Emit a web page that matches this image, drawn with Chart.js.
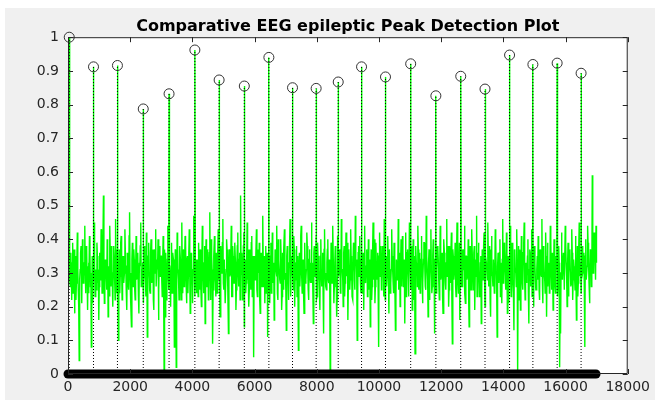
<!DOCTYPE html>
<html>
<head>
<meta charset="utf-8">
<script src="https://cdn.jsdelivr.net/npm/chart.js@4/dist/chart.umd.min.js"></script>
<style>
  html, body { margin: 0; padding: 0; background: #ffffff; }
  #wrap { width: 655px; height: 400px; }
</style>
</head>
<body>
<div id="wrap"><canvas id="eeg"></canvas></div>
<script>
// sample spacing of the noise trace
const sampleStep = 30;

// EEG amplitude (normalised), samples 0, 30, 60, ...
const eegNoise = [
  0.32,0.60,0.28,0.36,0.22,0.39,0.30,0.18,0.35,0.27,0.42,0.25,0.04,0.31,0.38,0.21,0.34,0.29,0.44,0.24,
  0.37,0.19,0.33,0.41,0.26,0.08,0.35,0.28,0.45,0.23,0.31,0.39,0.27,0.16,0.36,0.30,0.42,0.25,0.53,0.21,
  0.34,0.29,0.40,0.17,0.32,0.44,0.26,0.35,0.20,0.38,0.28,0.46,0.24,0.33,0.10,0.37,0.29,0.41,0.22,0.35,
  0.27,0.43,0.31,0.19,0.36,0.25,0.48,0.30,0.14,0.39,0.26,0.34,0.22,0.41,0.29,0.36,0.18,0.32,0.45,0.27,
  0.33,0.21,0.38,0.28,0.42,0.11,0.35,0.30,0.24,0.40,0.27,0.37,0.19,0.33,0.43,0.26,0.31,0.16,0.38,0.29,
  0.35,0.23,0.41,0.01,0.17,0.36,0.27,0.44,0.25,0.32,0.20,0.39,0.29,0.34,0.08,0.37,0.02,0.42,0.31,0.22,
  0.38,0.28,0.45,0.24,0.28,0.33,0.40,0.21,0.35,0.29,0.43,0.18,0.36,0.27,0.31,0.47,0.23,0.34,0.24,0.30,
  0.39,0.25,0.36,0.20,0.44,0.28,0.33,0.15,0.40,0.26,0.37,0.30,0.48,0.22,0.35,0.09,0.32,0.41,0.27,0.36,
  0.24,0.43,0.29,0.17,0.38,0.31,0.46,0.25,0.34,0.21,0.40,0.28,0.12,0.37,0.30,0.44,0.23,0.35,0.27,0.39,
  0.19,0.33,0.42,0.26,0.36,0.53,0.30,0.22,0.38,0.14,0.34,0.27,0.45,0.31,0.20,0.37,0.25,0.41,0.29,0.05,
  0.35,0.28,0.43,0.23,0.32,0.39,0.18,0.36,0.26,0.47,0.30,0.21,0.38,0.33,0.11,0.40,0.27,0.35,0.24,0.42,
  0.29,0.16,0.37,0.31,0.44,0.22,0.34,0.28,0.40,0.19,0.36,0.25,0.43,0.30,0.13,0.38,0.27,0.33,0.46,0.23,
  0.35,0.29,0.41,0.20,0.32,0.38,0.26,0.07,0.36,0.30,0.44,0.24,0.34,0.18,0.39,0.28,0.42,0.31,0.22,0.37,
  0.27,0.45,0.33,0.15,0.38,0.29,0.41,0.23,0.35,0.31,0.19,0.40,0.26,0.36,0.12,0.43,0.30,0.25,0.37,0.28,
  0.34,0.00,0.39,0.27,0.44,0.21,0.33,0.36,0.17,0.41,0.29,0.35,0.24,0.46,0.31,0.20,0.38,0.27,0.42,0.30,
  0.16,0.37,0.25,0.43,0.32,0.22,0.39,0.28,0.47,0.34,0.10,0.36,0.29,0.41,0.24,0.38,0.31,0.19,0.44,0.27,
  0.35,0.23,0.40,0.30,0.14,0.37,0.26,0.45,0.33,0.21,0.39,0.28,0.36,0.08,0.42,0.30,0.25,0.38,0.32,0.46,
  0.22,0.35,0.29,0.41,0.18,0.37,0.27,0.43,0.31,0.24,0.39,0.13,0.34,0.28,0.46,0.30,0.20,0.40,0.26,0.36,
  0.32,0.15,0.42,0.28,0.37,0.23,0.45,0.30,0.35,0.19,0.40,0.27,0.06,0.38,0.33,0.44,0.25,0.36,0.29,0.41,
  0.21,0.34,0.39,0.26,0.47,0.31,0.17,0.37,0.28,0.43,0.24,0.35,0.30,0.12,0.41,0.27,0.38,0.33,0.22,0.44,
  0.29,0.36,0.18,0.40,0.31,0.25,0.46,0.34,0.20,0.38,0.27,0.42,0.09,0.35,0.30,0.39,0.23,0.45,0.28,0.33,
  0.16,0.41,0.26,0.37,0.32,0.44,0.21,0.35,0.29,0.40,0.14,0.38,0.25,0.43,0.30,0.36,0.19,0.34,0.47,0.27,
  0.39,0.23,0.33,0.15,0.37,0.28,0.42,0.20,0.35,0.31,0.45,0.26,0.38,0.17,0.41,0.29,0.34,0.24,0.43,0.30,
  0.11,0.36,0.27,0.40,0.33,0.21,0.46,0.29,0.37,0.25,0.42,0.18,0.35,0.31,0.44,0.23,0.39,0.28,0.13,0.36,
  0.30,0.43,0.00,0.38,0.34,0.19,0.41,0.27,0.36,0.45,0.22,0.33,0.29,0.40,0.15,0.37,0.26,0.43,0.31,0.20,
  0.38,0.28,0.25,0.35,0.41,0.25,0.37,0.30,0.46,0.21,0.34,0.28,0.42,0.17,0.39,0.32,0.24,0.44,0.29,0.36,
  0.19,0.40,0.27,0.35,0.47,0.23,0.38,0.02,0.12,0.42,0.28,0.36,0.25,0.44,0.33,0.20,0.39,0.30,0.37,0.26,
  0.43,0.22,0.34,0.29,0.41,0.16,0.38,0.27,0.45,0.32,0.24,0.38,0.30,0.36,0.08,0.40,0.28,0.44,0.33,0.21,
  0.37,0.26,0.59,0.30,0.42,0.35,0.44
];

// in-between samples 15, 45, 75, ...
const eegNoiseMid = [
  0.35,0.41,0.26,0.30,0.33,0.24,0.37,0.29,0.22,0.34,0.31,0.20,0.28,0.36,0.25,0.40,0.27,0.33,0.30,0.38,
  0.28,0.32,0.24,0.36,0.30,0.27,0.21,0.39,0.33,0.29,0.25,0.35,0.31,0.26,0.28,0.43,0.24,0.34,0.30,0.27,
  0.31,0.25,0.36,0.29,0.23,0.33,0.38,0.27,0.30,0.35,0.22,0.32,0.37,0.26,0.29,0.24,0.39,0.31,0.28,0.34,
  0.30,0.36,0.24,0.32,0.27,0.41,0.29,0.21,0.34,0.31,0.37,0.25,0.30,0.28,0.35,0.23,0.33,0.38,0.26,0.31,
  0.27,0.35,0.30,0.23,0.33,0.28,0.39,0.25,0.36,0.29,0.32,0.22,0.37,0.30,0.26,0.34,0.40,0.24,0.31,0.35,
  0.28,0.33,0.25,0.37,0.30,0.22,0.34,0.29,0.39,0.27,0.32,0.24,0.36,0.30,0.27,0.33,0.25,0.38,0.28,0.31,
  0.34,0.22,0.30,0.37,0.26,0.41,0.28,0.33,0.24,0.36,0.30,0.27,0.35,0.21,0.38,0.29,0.32,0.26,0.34,0.23,
  0.31,0.37,0.27,0.34,0.29,0.24,0.38,0.30,0.26,0.33,0.22,0.36,0.28,0.40,0.31,0.25,0.35,0.29,0.23,0.32,
  0.36,0.28,0.33,0.25,0.30,0.39,0.27,0.34,0.21,0.31,0.37,0.26,0.32,0.29,0.35,0.23,0.38,0.30,0.27,0.33,
  0.25,0.38,0.29,0.34,0.22,0.31,0.36,0.27,0.42,0.30,0.24,0.33,0.28,0.37,0.26,0.32,0.39,0.23,0.35,0.30,
  0.28,0.34,0.25,0.37,0.30,0.22,0.33,0.29,0.38,0.26,0.35,0.31,0.24,0.36,0.28,0.32,0.21,0.39,0.30,0.27,
  0.33,0.26,0.36,0.29,0.24,0.40,0.31,0.27,0.34,0.23,0.30,0.37,0.28,0.25,0.35,0.32,0.22,0.38,0.29,0.34,
  0.30,0.25,0.37,0.28,0.33,0.23,0.35,0.30,0.26,0.41,0.29,0.32,0.24,0.36,0.27,0.31,0.38,0.25,0.34,0.29,
  0.33,0.27,0.24,0.36,0.30,0.34,0.22,0.39,0.28,0.25,0.35,0.31,0.29,0.23,0.37,0.30,0.26,0.33,0.40,0.27,
  0.31,0.24,0.35,0.29,0.32,0.26,0.38,0.28,0.22,0.34,0.30,0.37,0.25,0.31,0.28,0.36,0.23,0.33,0.29,0.39,
  0.26,0.32,0.28,0.35,0.23,0.30,0.37,0.25,0.33,0.29,0.21,0.38,0.31,0.27,0.34,0.24,0.36,0.30,0.28,0.32,
  0.37,0.29,0.25,0.34,0.31,0.22,0.36,0.28,0.40,0.26,0.33,0.30,0.24,0.35,0.29,0.38,0.27,0.32,0.23,0.36,
  0.30,0.26,0.33,0.28,0.37,0.24,0.31,0.35,0.27,0.39,0.29,0.22,0.34,0.30,0.25,0.36,0.32,0.28,0.41,0.26,
  0.34,0.29,0.23,0.36,0.31,0.27,0.33,0.25,0.38,0.30,0.22,0.35,0.28,0.32,0.26,0.37,0.30,0.24,0.34,0.29,
  0.27,0.39,0.31,0.25,0.35,0.28,0.33,0.22,0.36,0.30,0.26,0.40,0.29,0.34,0.24,0.31,0.37,0.27,0.32,0.28,
  0.35,0.23,0.30,0.36,0.27,0.33,0.29,0.38,0.25,0.31,0.34,0.22,0.37,0.28,0.32,0.26,0.35,0.30,0.24,0.39,
  0.29,0.33,0.26,0.31,0.37,0.24,0.35,0.28,0.30,0.22,0.36,0.32,0.27,0.34,0.25,0.38,0.29,0.31,0.23,0.36,
  0.30,0.27,0.35,0.25,0.32,0.38,0.29,0.24,0.33,0.28,0.36,0.31,0.22,0.37,0.30,0.26,0.34,0.29,0.40,0.25,
  0.32,0.28,0.36,0.23,0.30,0.34,0.27,0.39,0.31,0.25,0.33,0.29,0.21,0.36,0.28,0.35,0.30,0.24,0.37,0.31,
  0.26,0.34,0.29,0.22,0.37,0.30,0.33,0.25,0.39,0.28,0.32,0.27,0.35,0.24,0.31,0.36,0.29,0.23,0.38,0.30,
  0.33,0.25,0.31,0.28,0.36,0.22,0.34,0.29,0.27,0.38,0.30,0.24,0.35,0.31,0.26,0.33,0.28,0.40,0.25,0.32,
  0.29,0.35,0.24,0.31,0.37,0.27,0.33,0.22,0.30,0.36,0.28,0.34,0.25,0.39,0.29,0.32,0.23,0.35,0.30,0.27,
  0.36,0.28,0.32,0.25,0.34,0.30,0.23,0.38,0.29,0.33,0.26,0.37,0.31,0.24,0.35,0.28,0.32,0.39,0.27,0.30,
  0.33,0.29,0.38,0.31,0.36,0.28,0.33
];

// detected peaks (sample index, amplitude)
const peakX = [40, 820, 1590, 2420, 3250, 4080, 4860, 5670, 6460, 7220, 7980,
               8690, 9440, 10210, 11020, 11830, 12630, 13410, 14200, 14950, 15730, 16500];
const peakY = [1.0, 0.912, 0.916, 0.787, 0.832, 0.962, 0.873, 0.855, 0.94, 0.85, 0.848,
               0.867, 0.912, 0.882, 0.921, 0.826, 0.884, 0.846, 0.947, 0.919, 0.923, 0.893];

// the zero-marker run along the bottom
const baseStart = 0;
const baseEnd = 16980;

const xTicks = [0, 2000, 4000, 6000, 8000, 10000, 12000, 14000, 16000, 18000];
const yTicks = [0, 0.1, 0.2, 0.3, 0.4, 0.5, 0.6, 0.7, 0.8, 0.9, 1];

// build the datasets
const signal = [];
eegNoise.forEach((v, i) => signal.push({ x: i * sampleStep, y: v }));
eegNoiseMid.forEach((v, i) => signal.push({ x: i * sampleStep + sampleStep / 2, y: v }));
peakX.forEach((x, i) => signal.push({ x: x, y: peakY[i] }));
signal.sort((a, b) => a.x - b.x);

const stems = [];
peakX.forEach((x, i) => {
  stems.push({ x: x, y: 0 });
  stems.push({ x: x, y: peakY[i] });
  stems.push({ x: x, y: null });
});

const peaks = peakX.map((x, i) => ({ x: x, y: peakY[i] }));
const baseline = [{ x: baseStart, y: 0 }, { x: baseEnd, y: 0 }];

const axisColor = '#262626';

// figure background, white axes box, inward ticks on all four sides
const matlabFrame = {
  id: 'matlabFrame',
  beforeDraw(chart) {
    const { ctx, chartArea: a } = chart;
    ctx.save();
    ctx.fillStyle = '#ffffff';
    ctx.fillRect(0, 0, chart.width, chart.height);
    ctx.fillStyle = '#f0f0f0';
    ctx.fillRect(5, 8, chart.width - 5, chart.height - 8);
    ctx.fillStyle = '#ffffff';
    ctx.fillRect(a.left, a.top, a.right - a.left, a.bottom - a.top);
    ctx.restore();
  },
  afterDatasetsDraw(chart) {
    const { ctx, chartArea: a, scales } = chart;
    const len = 5;
    ctx.save();
    ctx.strokeStyle = axisColor;
    ctx.lineWidth = 1;
    ctx.beginPath();
    ctx.rect(a.left + 0.5, a.top + 0.5, a.right - a.left - 1, a.bottom - a.top - 1);
    xTicks.forEach(v => {
      const px = Math.round(scales.x.getPixelForValue(v)) + 0.5;
      ctx.moveTo(px, a.bottom); ctx.lineTo(px, a.bottom - len);
      ctx.moveTo(px, a.top); ctx.lineTo(px, a.top + len);
    });
    yTicks.forEach(v => {
      const py = Math.round(scales.y.getPixelForValue(v)) + 0.5;
      ctx.moveTo(a.left, py); ctx.lineTo(a.left + len, py);
      ctx.moveTo(a.right, py); ctx.lineTo(a.right - len, py);
    });
    ctx.stroke();
    ctx.restore();
  }
};

new Chart(document.getElementById('eeg'), {
  type: 'line',
  data: {
    datasets: [
      {
        label: 'baseline',
        data: baseline,
        borderColor: '#000000',
        borderWidth: 9,
        borderCapStyle: 'round',
        pointRadius: 0,
        clip: false,
        order: 0,
      },
      {
        label: 'peaks',
        data: peaks,
        showLine: false,
        pointRadius: 5,
        pointBorderWidth: 1,
        pointBorderColor: '#333333',
        pointBackgroundColor: 'rgba(0,0,0,0)',
        clip: false,
        order: 1,
      },
      {
        label: 'stems',
        data: stems,
        borderColor: '#000000',
        borderWidth: 1,
        borderDash: [1, 2],
        pointRadius: 0,
        spanGaps: false,
        order: 2,
      },
      {
        label: 'EEG',
        data: signal,
        borderColor: '#00ff00',
        borderWidth: 1.4,
        pointRadius: 0,
        tension: 0,
        clip: false,
        order: 3,
      },
    ],
  },
  options: {
    responsive: true,
    maintainAspectRatio: false,
    animation: false,
    events: [],
    layout: { padding: { left: 0, top: 0, right: 27, bottom: 0 } },
    plugins: {
      legend: { display: false },
      tooltip: { enabled: false },
      title: {
        display: true,
        text: 'Comparative EEG epileptic Peak Detection Plot',
        fullSize: false,
        color: '#000000',
        font: { family: 'DejaVu Sans', size: 16, weight: 'bold' },
        padding: { top: 17, bottom: 1 },
      },
    },
    scales: {
      x: {
        type: 'linear',
        min: 0,
        max: 18000,
        afterBuildTicks: s => { s.ticks = xTicks.map(v => ({ value: v })); },
        afterFit: s => { s.height = 26; },
        grid: { drawOnChartArea: false, drawTicks: false },
        border: { display: false },
        ticks: {
          padding: 5,
          color: axisColor,
          font: { family: 'DejaVu Sans', size: 14 },
          callback: v => String(v),
        },
      },
      y: {
        min: 0,
        max: 1,
        afterBuildTicks: s => { s.ticks = yTicks.map(v => ({ value: v })); },
        afterFit: s => { s.width = 68; },
        grid: { drawOnChartArea: false, drawTicks: false },
        border: { display: false },
        ticks: {
          padding: 9,
          color: axisColor,
          font: { family: 'DejaVu Sans', size: 14 },
          callback: v => String(v),
        },
      },
    },
  },
  plugins: [matlabFrame],
});
</script>
</body>
</html>
